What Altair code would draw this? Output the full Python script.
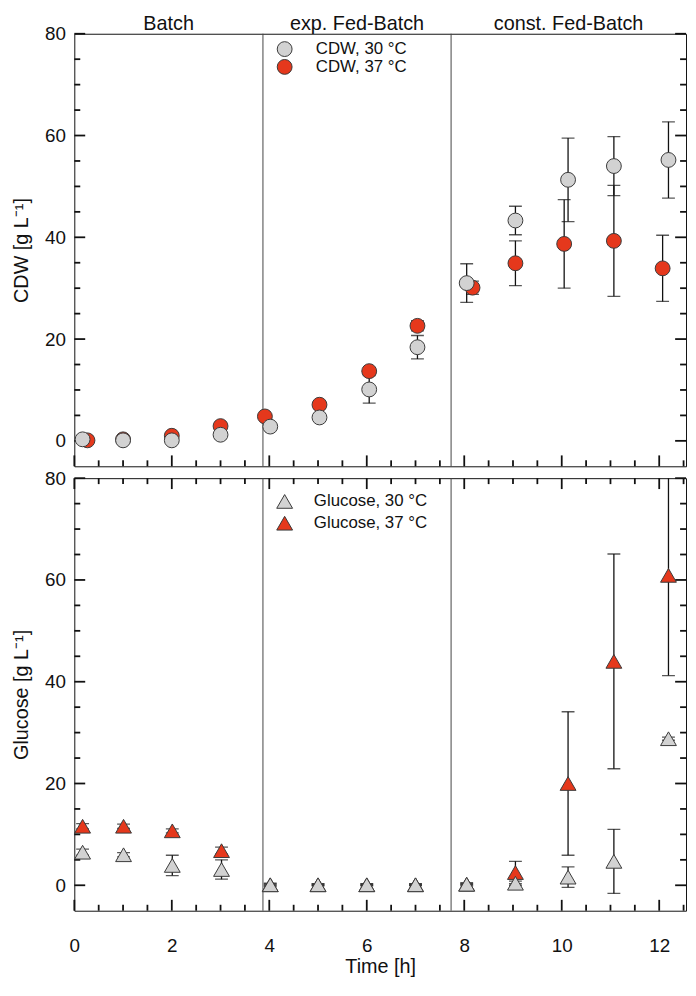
import altair as alt
import pandas as pd

# ---------------- data ----------------
phase_bounds = [3.87, 7.73]
x_max = 12.55
y_dom = [-5, 80]
phase_names = ["Batch", "exp. Fed-Batch", "const. Fed-Batch"]

cdw_names = ["CDW, 30 °C", "CDW, 37 °C"]
glc_names = ["Glucose, 30 °C", "Glucose, 37 °C"]

t_cdw30 = [0.17, 1.0, 2.0, 3.0, 4.02, 5.03, 6.05, 7.04, 8.05, 9.05, 10.13, 11.07, 12.19]
cdw30 = [0.3, 0.1, 0.1, 1.2, 2.8, 4.6, 10.1, 18.4, 31.0, 43.3, 51.3, 54.0, 55.2]
cdw30_err = [0.2, 0.2, 0.3, 0.5, 0.5, 0.7, 2.7, 2.3, 3.8, 2.8, 8.2, 5.8, 7.5]

t_cdw37 = [0.27, 1.0, 2.0, 3.0, 3.91, 5.03, 6.05, 7.04, 8.17, 9.05, 10.05, 11.07, 12.07]
cdw37 = [0.1, 0.3, 1.0, 2.9, 4.8, 7.1, 13.7, 22.6, 30.1, 34.9, 38.7, 39.3, 33.9]
cdw37_err = [0.2, 0.2, 0.3, 0.4, 0.4, 0.6, 0.6, 1.0, 1.3, 4.4, 8.7, 10.9, 6.5]

t_glc = [0.17, 1.01, 2.01, 3.02, 4.02, 5.0, 6.0, 7.0, 8.05, 9.05, 10.13, 11.07, 12.19]
glc30 = [6.5, 6.0, 3.9, 3.1, 0.1, 0.1, 0.1, 0.1, 0.2, 0.4, 1.6, 4.7, 28.8]
glc30_err = [0.6, 0.4, 2.0, 1.9, 0.3, 0.2, 0.2, 0.2, 0.3, 0.4, 2.0, 6.3, 0.3]
glc37 = [11.6, 11.6, 10.7, 6.8, 0.1, 0.1, 0.1, 0.1, 0.2, 2.5, 20.0, 44.0, 60.9]
glc37_err = [0.5, 0.4, 0.4, 0.7, 0.1, 0.1, 0.1, 0.1, 0.1, 2.2, 14.1, 21.1, 19.7]

y_major = [0, 20, 40, 60, 80]
y_minor = [5, 10, 15, 25, 30, 35, 45, 50, 55, 65, 70, 75]
x_major = [0, 2, 4, 6, 8, 10, 12]
x_minor = [0.5, 1, 1.5, 2.5, 3, 3.5, 4.5, 5, 5.5, 6.5, 7, 7.5,
           8.5, 9, 9.5, 10.5, 11, 11.5, 12.5]

# ---------------- styling ----------------
FONT = "Liberation Sans"
AX = "#111111"
GRAY = "#d2d2d2"
RED = "#e5381c"
EDGE = "#3a3a3a"
MAJ, MIN = 11, 6            # tick lengths in pixels
PANEL_W, PANEL_H = 618, 437

X_SCALE = alt.Scale(domain=[0, x_max], nice=False, zero=False)
Y_SCALE = alt.Scale(domain=y_dom, nice=False, zero=False)
X_PER_PX = x_max / PANEL_W
Y_PER_PX = (y_dom[1] - y_dom[0]) / PANEL_H


def frame(times, vals, errs, names):
    rows = []
    # 37 °C first so that 30 °C symbols are drawn on top
    for idx in [1, 0]:
        for t, v, e in zip(times[idx], vals[idx], errs[idx]):
            rows.append({"t": t, "v": v, "lo": v - e, "hi": v + e, "series": names[idx]})
    return pd.DataFrame(rows)


def tick_layers(with_top):
    """Inward frame ticks, placed at the tick values through the panel's scales."""
    ry, rx = [], []
    for vals, length in [(y_major, MAJ), (y_minor, MIN)]:
        dx = length * X_PER_PX
        for v in vals:
            ry.append({"y": v, "xa": 0, "xb": dx})
            ry.append({"y": v, "xa": x_max - dx, "xb": x_max})
    for vals, length in [(x_major, MAJ), (x_minor, MIN)]:
        dy = length * Y_PER_PX
        for v in vals:
            rx.append({"x": v, "ya": y_dom[0], "yb": y_dom[0] + dy})
            if with_top:
                rx.append({"x": v, "ya": y_dom[1] - dy, "yb": y_dom[1]})
    yt = alt.Chart(pd.DataFrame(ry)).mark_rule(color=AX, strokeWidth=1.8).encode(
        x=alt.X("xa:Q", scale=X_SCALE, axis=None), x2="xb:Q",
        y=alt.Y("y:Q", scale=Y_SCALE, axis=None))
    xt = alt.Chart(pd.DataFrame(rx)).mark_rule(color=AX, strokeWidth=1.8).encode(
        x=alt.X("x:Q", scale=X_SCALE, axis=None),
        y=alt.Y("ya:Q", scale=Y_SCALE, axis=None), y2="yb:Q")
    return [yt, xt]


def panel(df, names, shape, size, ytitle, legend_y, row_pad, label_off, bottom):
    base = alt.Chart(df)

    left_axis = alt.Axis(orient="left", values=y_major, ticks=False, domain=False,
                         labelPadding=9, labelOverlap=False, labelFlush=False,
                         title=ytitle, titlePadding=13)
    if bottom:
        bottom_axis = alt.Axis(orient="bottom", values=x_major, ticks=False, domain=False,
                               format="d", labelPadding=26, labelOverlap=False,
                               labelFlush=False, title="Time [h]", titlePadding=1)
    else:
        bottom_axis = None

    phases = alt.Chart(pd.DataFrame({"b": phase_bounds})).mark_rule(
        color="#444444", strokeWidth=1
    ).encode(x=alt.X("b:Q", scale=X_SCALE, axis=None))

    err_rule = base.mark_rule(color="#111111", strokeWidth=1.3, clip=True).encode(
        x=alt.X("t:Q", scale=X_SCALE, axis=None),
        y=alt.Y("lo:Q", scale=Y_SCALE, axis=None),
        y2="hi:Q",
    )
    cap_lo = base.mark_tick(color="#111111", orient="horizontal", size=13,
                            thickness=1.3, clip=True).encode(
        x=alt.X("t:Q", scale=X_SCALE, axis=None),
        y=alt.Y("lo:Q", scale=Y_SCALE, axis=None),
    )
    cap_hi = base.mark_tick(color="#111111", orient="horizontal", size=13,
                            thickness=1.3, clip=True).encode(
        x=alt.X("t:Q", scale=X_SCALE, axis=None),
        y=alt.Y("hi:Q", scale=Y_SCALE, axis=None),
    )
    pts = base.mark_point(filled=True, shape=shape, size=size, stroke=EDGE,
                          strokeWidth=1, opacity=1, fillOpacity=1).encode(
        x=alt.X("t:Q", scale=X_SCALE, axis=bottom_axis),
        y=alt.Y("v:Q", scale=Y_SCALE, axis=left_axis),
        fill=alt.Fill("series:N", scale=alt.Scale(domain=names, range=[GRAY, RED]),
                      legend=alt.Legend(title=None, orient="none", legendX=204,
                                        legendY=legend_y, symbolType=shape,
                                        symbolSize=size, symbolStrokeColor=EDGE,
                                        symbolStrokeWidth=1, labelFontSize=17,
                                        labelFont=FONT, labelColor="#111111",
                                        labelOffset=label_off,
                                        rowPadding=alt.ExprRef(str(row_pad)),
                                        padding=0)),
    )
    layers = [phases] + tick_layers(bottom) + [err_rule, cap_lo, cap_hi, pts]
    if not bottom:
        reg = pd.DataFrame({"name": phase_names,
                            "start": [0] + phase_bounds,
                            "end": phase_bounds + [x_max]})
        text = alt.Chart(reg).transform_calculate(
            mid="(datum.start + datum.end) / 2"
        ).mark_text(font=FONT, fontSize=20, color="#111111", baseline="alphabetic").encode(
            x=alt.X("mid:Q", scale=X_SCALE, axis=None),
            y=alt.value(-4),
            text="name:N",
        )
        layers.append(text)
    return alt.layer(*layers).resolve_axis(x="independent", y="independent").properties(
        width=PANEL_W, height=PANEL_H)


cdw_df = frame([t_cdw30, t_cdw37], [cdw30, cdw37], [cdw30_err, cdw37_err], cdw_names)
glc_df = frame([t_glc, t_glc], [glc30, glc37], [glc30_err, glc37_err], glc_names)

top = panel(cdw_df, cdw_names, "circle", 225, "CDW [g L⁻¹]", 7, -3, 23, False)
bot = panel(glc_df, glc_names, "triangle-up", 256, "Glucose [g L⁻¹]", 15, 3, 21, True)

chart = alt.vconcat(top, bot, spacing=0).resolve_scale(fill="independent").resolve_legend(
    fill="independent"
).properties(
    padding={"left": 3, "top": 0, "right": 0, "bottom": 0}
).configure(font=FONT).configure_view(
    stroke=AX, strokeWidth=1
).configure_axis(
    grid=False, labelColor="#111111", titleColor="#111111", labelFont=FONT,
    titleFont=FONT, labelFontSize=19, titleFontSize=20, titleFontWeight="normal"
)

chart.save("out.html", embed_options={"renderer": "svg", "actions": False})
